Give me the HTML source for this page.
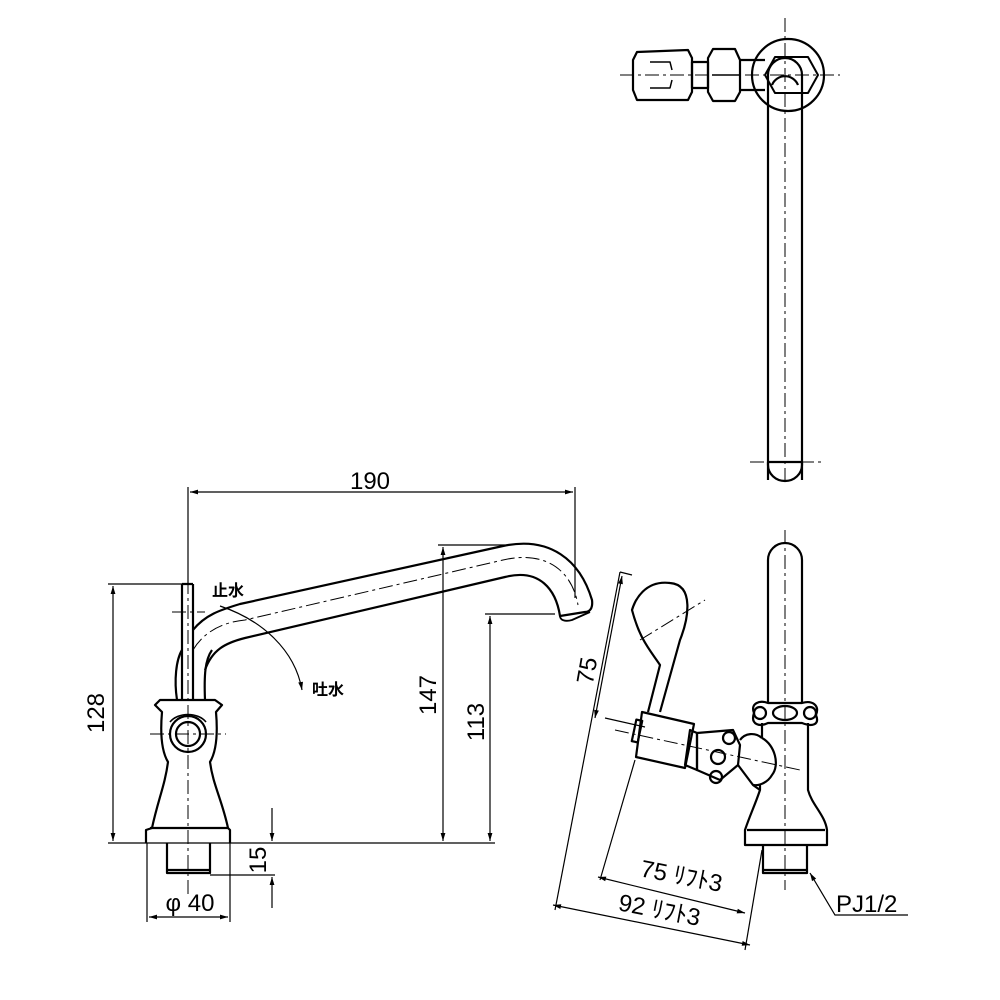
<!DOCTYPE html>
<html><head><meta charset="utf-8"><style>
html,body{margin:0;padding:0;background:#fff}
svg{display:block}
text{font-family:"Liberation Sans","Noto Sans CJK JP",sans-serif;fill:#000}
</style></head><body>
<svg width="1000" height="1000" viewBox="0 0 1000 1000" xmlns="http://www.w3.org/2000/svg">
<defs>
<marker id="a" viewBox="0 0 10 10" refX="10" refY="5" markerWidth="10" markerHeight="8" orient="auto-start-reverse" markerUnits="userSpaceOnUse"><path d="M0,2 L10,5 L0,8 z" fill="#000"/></marker>
</defs>
<g fill="none" stroke="#000" stroke-width="2.2" stroke-linejoin="round">
<!-- TOP VIEW -->
<circle cx="788" cy="75" r="36"/>
<path d="M765,75 L775,57 L808,57 L818,75 L808,93 L775,93 Z" stroke-width="2"/>
<path d="M768,480 L768,75 A17,17 0 0 1 802,75 L802,480"/>
<path d="M772,85 A14,14 0 0 1 798,85"/>
<path d="M768,462 L768,465 A17,16 0 0 0 802,465 L802,462"/>
<path d="M768,462 L802,462"/>
<path d="M637,52 L688,50 L692,58 L692,92 L688,100 L637,100 L633,90 L633,60 Z"/>
<path d="M650,62 L670,62 L672,70 M650,88 L670,88 L672,80" stroke-width="1.5"/>
<rect x="692" y="62" width="16" height="26"/>
<path d="M713,49 L735,49 L740,60 L740,92 L735,101 L713,101 L708,92 L708,58 Z"/>
<path d="M712,75 L740,75" stroke-width="1.5"/>
<path d="M740,60 L765,60 M740,90 L765,90"/>

<!-- FRONT VIEW -->
<path d="M146,843 L146,830 L152,828 C158,800 165,785 168,762 C162,752 160,735 162,712 L155,705 L160,700 L215,700 L222,705 L216,712 C218,735 216,752 210,762 C213,785 222,800 228,828 L230,830 L230,843"/>
<path d="M150,828 L228,828"/>
<path d="M167,843 L167,873 L210,873 L210,843"/>
<path d="M167,870 L210,870"/>
<circle cx="188" cy="734" r="18"/>
<circle cx="188" cy="734" r="12"/>
<path d="M170,722 C178,712 198,712 206,722" stroke-width="1.6"/>
<path d="M182,584 L182,700 M193,584 L193,700 M182,584 L193,584"/>
<path d="M177,700 C174,680 176,660 182,650 M205,700 C204,675 205,660 212,650"/>
<path d="M193,630 C205,615 220,610 240,604 L503,546 C550,536 580,560 592,600 C593,608 590,612 585,612 L560,616 C556,590 540,568 505,577 L245,638 C225,643 212,650 205,670"/>
<path d="M560,616 C560,620 565,622 572,620 L590,612" stroke-width="1.8"/>
</g>
<!-- centerlines -->
<g fill="none" stroke="#000" stroke-width="1" stroke-dasharray="14,4,3,4">
<path d="M620,75 L840,75 M785,18 L785,480 M750,462 L822,462"/>
<path d="M188,580 L188,895 M150,734 L226,734 M172,612 L205,612"/>
<path d="M193,650 C205,630 225,622 245,620 L503,560 C545,550 572,570 578,605" />
<path d="M785,530 L785,890"/>
<path d="M615,730 L800,770 M640,640 L705,600"/>
</g>
<!-- dimensions -->
<g fill="none" stroke="#000" stroke-width="1.2">
<path d="M108,843 L495,843"/>
<path d="M188,487 L188,583 M575,487 L575,598"/>
<path d="M190,492 L573,492" marker-start="url(#a)" marker-end="url(#a)"/>
<path d="M108,584 L190,584"/>
<path d="M113,586 L113,841" marker-start="url(#a)" marker-end="url(#a)"/>
<path d="M438,545 L505,545"/>
<path d="M443,547 L443,841" marker-start="url(#a)" marker-end="url(#a)"/>
<path d="M485,614 L555,614"/>
<path d="M490,616 L490,841" marker-start="url(#a)" marker-end="url(#a)"/>
<path d="M210,875 L275,875"/>
<path d="M272,808 L272,841" marker-end="url(#a)"/>
<path d="M272,908 L272,877" marker-end="url(#a)"/>
<path d="M147,843 L147,922 M230,843 L230,922"/>
<path d="M149,917 L228,917" marker-start="url(#a)" marker-end="url(#a)"/>
<path d="M220,606 C262,620 295,650 302,690" marker-end="url(#a)"/>
</g>
<g font-size="24">
<text x="370" y="489" text-anchor="middle">190</text>
<text transform="translate(104,713) rotate(-90)" text-anchor="middle">128</text>
<text transform="translate(436,695) rotate(-90)" text-anchor="middle">147</text>
<text transform="translate(484,722) rotate(-90)" text-anchor="middle">113</text>
<text transform="translate(266,860) rotate(-90)" text-anchor="middle">15</text>
<text x="190" y="911" text-anchor="middle">φ 40</text>
</g>
<text x="212" y="596" font-size="16" font-weight="bold">止水</text>
<text x="312" y="695" font-size="16" font-weight="bold">吐水</text>

<!-- SIDE VIEW -->
<g fill="none" stroke="#000" stroke-width="2.2" stroke-linejoin="round">
<path d="M768,703 L768,560 A17,17 0 0 1 802,560 L802,703"/>
<path d="M754,713 C750,703 760,700 768,703 L802,703 C812,700 820,705 816,715 C820,725 812,727 802,723 L768,723 C760,727 750,725 754,713 Z"/>
<ellipse cx="785" cy="713" rx="12" ry="7"/>
<circle cx="760" cy="713" r="6"/><circle cx="810" cy="713" r="6"/>
<path d="M762,723 L762,738 M808,723 L808,790 C812,805 825,815 827,830 L827,845 L745,845 L745,830 C750,815 755,805 760,790 L760,785"/>
<path d="M747,830 L825,830"/>
<path d="M763,845 L763,873 L807,873 L807,845 M763,870 L807,870"/>
<path d="M762,738 C775,745 780,765 772,775 C768,782 760,786 753,785"/>
<path d="M740,740 C745,733 755,732 762,738"/>
<path d="M738,765 L753,785 L760,790"/>
<path d="M697,733 L733,730 L740,745 L738,765 L720,780 L697,770 Z"/>
<circle cx="729" cy="738" r="6"/><circle cx="718" cy="757" r="7"/><circle cx="716" cy="777" r="6"/>
<path d="M690,730 L697,733 L697,770 L685,765 Z"/>
<path d="M642,712 L694,724 L685,768 L636,757 Z"/>
<rect x="634" y="720" width="6" height="22" transform="rotate(12 637 731)"/>
<path d="M660,712 L680,640 C688,620 695,585 670,583 C645,580 635,600 632,610 C640,640 650,650 660,665 L648,712"/>
</g>
<g fill="none" stroke="#000" stroke-width="1.2">
<path d="M620,572 L632,575 M605,718 L645,727"/>
<path d="M622,576 L595,718" marker-start="url(#a)" marker-end="url(#a)"/>
<path d="M620,572 L555,910 M635,760 L600,880"/>
<path d="M598,877 L745,913" marker-start="url(#a)" marker-end="url(#a)"/>
<path d="M553,905 L750,945" marker-start="url(#a)" marker-end="url(#a)"/>
<path d="M762,850 L745,950"/>
<path d="M810,873 L835,915 L908,915" marker-start="url(#a)"/>
</g>
<g font-size="24">
<text transform="translate(595,672) rotate(-80)" text-anchor="middle">75</text>
<text transform="translate(680,884) rotate(11)" text-anchor="middle">75 ﾘﾌﾄ3</text>
<text transform="translate(658,918) rotate(11)" text-anchor="middle">92 ﾘﾌﾄ3</text>
<text x="836" y="912">PJ1/2</text>
</g>
</svg>
</body></html>
